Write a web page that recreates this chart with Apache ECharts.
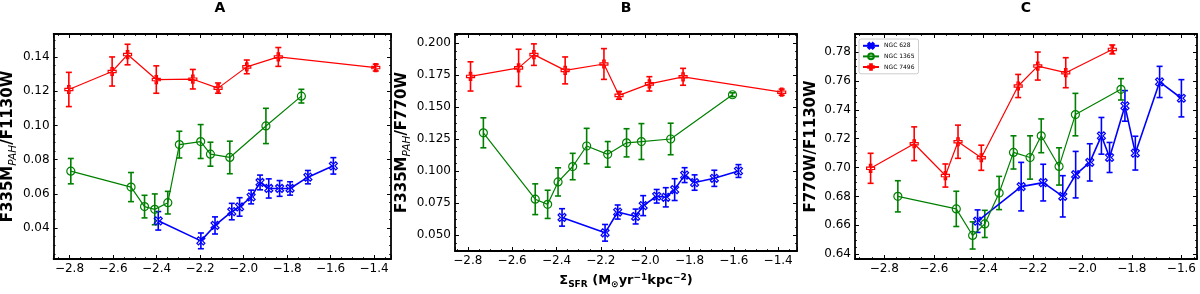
<!DOCTYPE html>
<html><head><meta charset="utf-8">
<script src="https://cdn.jsdelivr.net/npm/echarts@6/dist/echarts.min.js"></script>
<style>html,body{margin:0;padding:0;background:#fff}#c{width:1200px;height:294px}</style>
</head><body><div id="c"></div>
<script>
// ---------- Panel A : F335M_PAH / F1130W ----------
const aX628  = [-2.392,-2.196,-2.131,-2.054,-2.018,-1.965,-1.924,-1.884,-1.834,-1.786,-1.704,-1.587];
const aY628  = [0.0443,0.0326,0.0416,0.0497,0.0524,0.0582,0.0667,0.0632,0.0632,0.0632,0.0698,0.0764];
const aE628  = [0.0054,0.0046,0.0050,0.0048,0.0054,0.0040,0.0043,0.0056,0.0046,0.0039,0.0039,0.0048];
const aX1365 = [-2.794,-2.517,-2.455,-2.408,-2.348,-2.295,-2.197,-2.152,-2.063,-1.897,-1.734];
const aY1365 = [0.0733,0.0640,0.0526,0.0510,0.0549,0.0888,0.0906,0.0832,0.0813,0.0997,0.1171];
const aE1365 = [0.0074,0.0085,0.0066,0.0090,0.0066,0.0078,0.0099,0.0070,0.0095,0.0103,0.0040];
const aX7496 = [-2.803,-2.604,-2.533,-2.401,-2.233,-2.117,-1.985,-1.840,-1.392];
const aY7496 = [0.1210,0.1315,0.1414,0.1268,0.1270,0.1218,0.1342,0.1400,0.1338];
const aE7496 = [0.0100,0.0085,0.0060,0.0080,0.0057,0.0030,0.0040,0.0055,0.0020];
// ---------- Panel B : F335M_PAH / F770W ----------
const bX628  = [-2.375,-2.181,-2.124,-2.043,-2.009,-1.948,-1.907,-1.867,-1.822,-1.777,-1.688,-1.579];
const bY628  = [0.0638,0.0518,0.0680,0.0645,0.0730,0.0803,0.0795,0.0855,0.0968,0.0910,0.0943,0.1000];
const bE628  = [0.0068,0.0065,0.0055,0.0058,0.0078,0.0053,0.0075,0.0085,0.0058,0.0060,0.0063,0.0050];
const bX1365 = [-2.730,-2.496,-2.440,-2.393,-2.327,-2.264,-2.169,-2.084,-2.017,-1.885,-1.606];
const bY1365 = [0.1298,0.0780,0.0740,0.0915,0.1035,0.1195,0.1130,0.1220,0.1230,0.1250,0.1595];
const bE1365 = [0.0117,0.0120,0.0110,0.0110,0.0103,0.0138,0.0100,0.0110,0.0140,0.0123,0.0015];
const bX7496 = [-2.788,-2.571,-2.502,-2.361,-2.186,-2.118,-1.981,-1.829,-1.384];
const bY7496 = [0.1738,0.1805,0.1908,0.1785,0.1835,0.1590,0.1680,0.1735,0.1615];
const bE7496 = [0.0114,0.0145,0.0084,0.0105,0.0120,0.0030,0.0056,0.0066,0.0024];
// ---------- Panel C : F770W / F1130W ----------
const cX628  = [-2.423,-2.247,-2.158,-2.079,-2.027,-1.970,-1.923,-1.890,-1.828,-1.786,-1.688,-1.600];
const cY628  = [0.6629,0.6868,0.6896,0.6801,0.6951,0.7036,0.7220,0.7070,0.7427,0.7100,0.7593,0.7480];
const cE628  = [0.0078,0.0168,0.0127,0.0143,0.0161,0.0129,0.0127,0.0104,0.0106,0.0117,0.0108,0.0129];
const cX1365 = [-2.745,-2.509,-2.443,-2.394,-2.336,-2.278,-2.211,-2.166,-2.094,-2.028,-1.844];
const cY1365 = [0.6801,0.6714,0.6530,0.6610,0.6824,0.7105,0.7070,0.7220,0.7008,0.7367,0.7542];
const cE1365 = [0.0108,0.0122,0.0094,0.0094,0.0115,0.0115,0.0150,0.0117,0.0129,0.0147,0.0074];
const cX7496 = [-2.855,-2.679,-2.553,-2.502,-2.408,-2.259,-2.180,-2.067,-1.879];
const cY7496 = [0.6995,0.7165,0.6945,0.7179,0.7068,0.7565,0.7703,0.7657,0.7818];
const cE7496 = [0.0104,0.0117,0.0080,0.0115,0.0087,0.0080,0.0097,0.0104,0.0031];

const galaxyNames = ['NGC 628','NGC 1365','NGC 7496'];
const panelTitles = ['A','B','C'];
const xTickStep = 0.2;
const yTickSteps = [0.02, 0.025, 0.02];
const yDecimals = [2, 3, 2];
const xLimits = [[-2.873,-1.322],[-2.858,-1.315],[-2.918,-1.537]];
const yLimits = [[0.022,0.1534],[0.0376,0.2069],[0.6367,0.7925]];

// ---------- styling / layout ----------
const FONT = 'DejaVu Sans';
const colors = ['#0000ff','#008000','#ff0000'];
const lineWidths = [1.6,1.2,1.2];
const symbols = [
  'path://M2,0 L5,3 L8,0 L10,2 L7,5 L10,8 L8,10 L5,7 L2,10 L0,8 L3,5 L0,2 Z',
  'circle',
  'path://M3.5,0 L6.5,0 L6.5,3.5 L10,3.5 L10,6.5 L6.5,6.5 L6.5,10 L3.5,10 L3.5,6.5 L0,6.5 L0,3.5 L3.5,3.5 Z'
];
const gridLefts = [49,455,855];
const gridTop = 34, gridW = 342, gridH = 225;
const yNames = ['{b|F335M}{s|PAH}{b|/F1130W}','{b|F335M}{s|PAH}{b|/F770W}','{b|F770W/F1130W}'];
const yNameGaps = [34,41,33];

const panelData = [
  {x:[aX628,aX1365,aX7496], y:[aY628,aY1365,aY7496], e:[aE628,aE1365,aE7496]},
  {x:[bX628,bX1365,bX7496], y:[bY628,bY1365,bY7496], e:[bE628,bE1365,bE7496]},
  {x:[cX628,cX1365,cX7496], y:[cY628,cY1365,cY7496], e:[cE628,cE1365,cE7496]}
];

const nameRich = {
  b:{fontSize:15,fontWeight:'bold',fontFamily:FONT,lineHeight:21,color:'#000'},
  s:{fontSize:10.5,fontStyle:'italic',fontFamily:FONT,lineHeight:11,verticalAlign:'bottom',color:'#000'},
  sb:{fontSize:9,fontWeight:'bold',fontFamily:FONT,lineHeight:10,verticalAlign:'bottom',color:'#000'},
  p:{fontSize:9,fontWeight:'bold',fontFamily:FONT,lineHeight:10,verticalAlign:'top',color:'#000'}
};

function fmtX(v){ return (v<0?'\u2212':'') + Math.abs(v).toFixed(1); }

function baseAxis(min,max,step,showLabel,fmt){
  return {
    type:'value', min:min, max:max, minInterval:step, maxInterval:step,
    axisLine:{show:true,onZero:false,lineStyle:{color:'#000',width:1.8}},
    axisTick:{show:true,inside:true,length:4,lineStyle:{color:'#000',width:1}},
    minorTick:{show:true,splitNumber:4,length:2,lineStyle:{color:'#000',width:0.8}},
    splitLine:{show:false},
    axisLabel:{show:showLabel,showMinLabel:false,showMaxLabel:false,formatter:fmt,
      color:'#000',fontSize:12,fontFamily:FONT,margin:4}
  };
}

const grid=[], xAxis=[], yAxis=[], series=[], title=[];
for(let p=0;p<3;p++){
  grid.push({left:gridLefts[p],top:gridTop,width:gridW,height:gridH,containLabel:false});
  title.push({text:panelTitles[p],left:gridLefts[p]+gridW/2,top:1,textAlign:'center',padding:0,
    textStyle:{fontSize:14,fontWeight:'bold',fontFamily:FONT,color:'#000'}});
  const xb = baseAxis(xLimits[p][0],xLimits[p][1],xTickStep,true,fmtX);
  xb.gridIndex=p; xb.position='bottom';
  if(p===1){
    xb.name='{b|\u03A3}{sb|SFR}{b| (M}{sb|\u2299}{b|yr}{p|\u22121}{b|kpc}{p|\u22122}{b|)}';
    xb.nameLocation='middle'; xb.nameGap=22;
    xb.nameTextStyle={rich:{
      b:{fontSize:13,fontWeight:'bold',fontFamily:FONT,lineHeight:16,color:'#000'},
      sb:nameRich.sb, p:nameRich.p}};
  }
  const xt = baseAxis(xLimits[p][0],xLimits[p][1],xTickStep,false,fmtX);
  xt.gridIndex=p; xt.position='top';
  const yd = yDecimals[p];
  const yl = baseAxis(yLimits[p][0],yLimits[p][1],yTickSteps[p],true,v=>v.toFixed(yd));
  yl.gridIndex=p; yl.position='left';
  yl.name=yNames[p]; yl.nameLocation='middle'; yl.nameGap=yNameGaps[p];
  yl.nameTextStyle={rich:nameRich};
  const yr = baseAxis(yLimits[p][0],yLimits[p][1],yTickSteps[p],false,v=>v.toFixed(yd));
  yr.gridIndex=p; yr.position='right';
  xAxis.push(xb,xt); yAxis.push(yl,yr);

  const d = panelData[p];
  for(let g=0; g<3; g++){
    const col = colors[g];
    const pts = d.x[g].map((v,i)=>[v,d.y[g][i],d.e[g][i]]);
    series.push({
      type:'custom', name:'err'+p+g, xAxisIndex:2*p, yAxisIndex:2*p,
      data:pts, encode:{x:0,y:1}, silent:true, z:2,
      renderItem:function(params,api){
        const x=api.value(0), y=api.value(1), e=api.value(2);
        const t=api.coord([x,y+e]), b=api.coord([x,y-e]);
        const c=3, st={stroke:col,lineWidth:1.6};
        return {type:'group',children:[
          {type:'line',shape:{x1:t[0],y1:t[1],x2:b[0],y2:b[1]},style:st},
          {type:'line',shape:{x1:t[0]-c,y1:t[1],x2:t[0]+c,y2:t[1]},style:st},
          {type:'line',shape:{x1:b[0]-c,y1:b[1],x2:b[0]+c,y2:b[1]},style:st}
        ]};
      }
    });
    series.push({
      type:'line', name:galaxyNames[g], xAxisIndex:2*p, yAxisIndex:2*p,
      data:pts.map(q=>[q[0],q[1]]), symbol:symbols[g], symbolSize:8, showSymbol:true,
      lineStyle:{color:col,width:lineWidths[g]},
      itemStyle:{color:'rgba(0,0,0,0)',borderColor:col,borderWidth:1.2},
      emphasis:{disabled:true}, z:3
    });
  }
}

const chart = echarts.init(document.getElementById('c'),null,{renderer:'canvas'});
chart.setOption({
  animation:false, backgroundColor:'#fff',
  title:title, grid:grid, xAxis:xAxis, yAxis:yAxis, series:series,
  legend:{data:galaxyNames, orient:'vertical', left:859, top:39, padding:[3,4,3,3],
    itemGap:3, itemWidth:16, itemHeight:7, borderColor:'#cccccc', borderWidth:1, borderRadius:2,
    backgroundColor:'rgba(255,255,255,0.8)',
    textStyle:{fontSize:6,fontFamily:FONT,color:'#000',padding:[0,0,0,0]}, selectedMode:false}
});
</script></body></html>
